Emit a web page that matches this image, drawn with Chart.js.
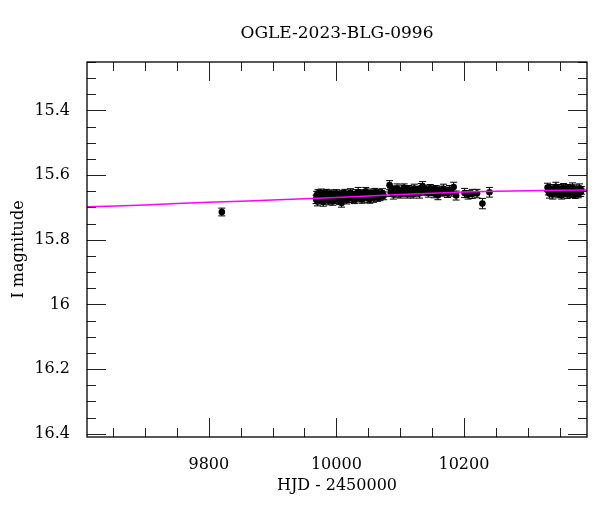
<!DOCTYPE html>
<html>
<head>
<meta charset="utf-8">
<script src="https://cdn.jsdelivr.net/npm/chart.js@4.4.0/dist/chart.umd.min.js"></script>
<style>
  body { margin: 0; background: #fff; }
  #wrap { width: 600px; height: 512px; }
</style>
</head>
<body>
<div id="wrap"><canvas id="lc" width="600" height="512"></canvas></div>
<script>
let titulo = "OGLE-2023-BLG-0996";
let xTitulo = "HJD - 2450000";
let yTitulo = "I magnitude";

let xTicks = [9800, 10000, 10200];
let yTicks = [15.4, 15.6, 15.8, 16, 16.2, 16.4];

// observaciones
let hjd = [
  9820.4,
  9968.2, 9969.1, 9970.3, 9971.2, 9972.4, 9973.1, 9974.3, 9975.2, 9976.1, 9977.3,
  9978.2, 9979.4, 9980.1, 9981.3, 9983.2, 9984.4, 9986.1, 9987.3, 9988.2, 9990.1,
  9991.3, 9993.2, 9994.4, 9996.1, 9997.3, 9999.2, 10000.4, 10002.1, 10003.3, 10005.2,
  10006.4, 10008.1, 10009.3, 10011.2, 10013.4, 10015.1, 10016.3, 10018.2, 10020.4, 10022.1,
  10024.3, 10026.2, 10028.4, 10030.1, 10032.3, 10034.2, 10036.4, 10038.1, 10040.3, 10042.2,
  10044.4, 10046.1, 10048.3, 10050.2, 10052.4, 10054.1, 10056.3, 10058.2, 10060.4, 10062.1,
  10064.3, 10066.2, 10068.4, 10070.1, 10072.3, 10074.2,
  10083.5, 10085.2, 10087.1, 10089.3, 10091.2, 10093.4, 10095.1, 10097.3, 10100.2, 10102.4,
  10104.1, 10106.3, 10108.2, 10111.4, 10113.1, 10115.3, 10118.2, 10120.4, 10122.1, 10125.3,
  10127.2, 10130.4, 10133.1, 10135.3, 10138.2, 10141.4, 10144.1, 10147.3, 10150.2, 10153.4,
  10156.1, 10159.3, 10162.2, 10165.4, 10168.1, 10171.3, 10174.2, 10177.4, 10180.1, 10183.9,
  10187.8,
  10201.0, 10206.5, 10213.0, 10220.5, 10229.0, 10240.0,
  10331.2, 10332.4, 10334.1, 10335.3, 10337.2, 10339.4, 10341.1, 10342.3, 10344.2, 10346.4,
  10348.1, 10349.3, 10351.2, 10353.4, 10355.1, 10356.3, 10358.2, 10360.4, 10362.1, 10363.3,
  10365.2, 10367.4, 10369.1, 10370.3, 10372.2, 10374.4, 10376.1, 10377.3, 10379.2, 10381.4,
  10383.1, 10384.3
];

let mag = [
  15.714,
  15.675, 15.662, 15.681, 15.657, 15.671, 15.677, 15.660, 15.668, 15.655, 15.674,
  15.665, 15.683, 15.659, 15.670, 15.676, 15.656, 15.667, 15.662, 15.679, 15.658,
  15.672, 15.664, 15.681, 15.660, 15.668, 15.675, 15.657, 15.671, 15.663, 15.679,
  15.667, 15.686, 15.659, 15.673, 15.656, 15.666, 15.676, 15.662, 15.670, 15.654,
  15.672, 15.664, 15.677, 15.658, 15.668, 15.652, 15.671, 15.662, 15.675, 15.656,
  15.666, 15.650, 15.670, 15.660, 15.674, 15.655, 15.665, 15.671, 15.653, 15.662,
  15.669, 15.657, 15.667, 15.660, 15.655, 15.664,
  15.631, 15.653, 15.645, 15.660, 15.648, 15.656, 15.641, 15.651, 15.659, 15.645,
  15.654, 15.639, 15.650, 15.658, 15.644, 15.653, 15.647, 15.659, 15.642, 15.652,
  15.646, 15.657, 15.639, 15.635, 15.650, 15.645, 15.655, 15.641, 15.649, 15.657,
  15.644, 15.662, 15.647, 15.653, 15.642, 15.650, 15.657, 15.646, 15.652, 15.637,
  15.663,
  15.655, 15.661, 15.658, 15.657, 15.688, 15.653,
  15.638, 15.649, 15.657, 15.642, 15.652, 15.660, 15.644, 15.653, 15.636, 15.650,
  15.658, 15.643, 15.654, 15.662, 15.645, 15.639, 15.655, 15.648, 15.659, 15.641,
  15.652, 15.646, 15.657, 15.638, 15.653, 15.660, 15.644, 15.650, 15.658, 15.641,
  15.653, 15.647
];

let err = [
  0.012,
  0.013, 0.012, 0.014, 0.012, 0.013, 0.012, 0.011, 0.013, 0.012, 0.014,
  0.012, 0.013, 0.012, 0.011, 0.013, 0.012, 0.014, 0.012, 0.013, 0.012,
  0.011, 0.013, 0.012, 0.014, 0.012, 0.013, 0.012, 0.011, 0.013, 0.012,
  0.014, 0.013, 0.012, 0.013, 0.012, 0.011, 0.013, 0.012, 0.014, 0.012,
  0.013, 0.012, 0.011, 0.013, 0.012, 0.014, 0.012, 0.013, 0.012, 0.011,
  0.013, 0.012, 0.014, 0.012, 0.013, 0.012, 0.011, 0.013, 0.012, 0.014,
  0.012, 0.013, 0.012, 0.011, 0.013, 0.012,
  0.014, 0.013, 0.012, 0.014, 0.013, 0.012, 0.014, 0.013, 0.012, 0.014,
  0.013, 0.012, 0.014, 0.013, 0.012, 0.014, 0.013, 0.012, 0.014, 0.013,
  0.012, 0.014, 0.013, 0.015, 0.012, 0.014, 0.013, 0.012, 0.014, 0.013,
  0.012, 0.014, 0.013, 0.012, 0.014, 0.013, 0.012, 0.014, 0.013, 0.015,
  0.014,
  0.014, 0.013, 0.014, 0.013, 0.016, 0.015,
  0.013, 0.012, 0.014, 0.013, 0.012, 0.014, 0.013, 0.012, 0.014, 0.013,
  0.012, 0.014, 0.013, 0.012, 0.014, 0.013, 0.012, 0.014, 0.013, 0.012,
  0.014, 0.013, 0.012, 0.014, 0.013, 0.012, 0.014, 0.013, 0.012, 0.014,
  0.013, 0.012
];

// modelo
let modeloHjd = [9609, 9700, 9800, 9900, 10000, 10100, 10200, 10300, 10393];
let modeloMag = [15.698, 15.692, 15.684, 15.677, 15.669, 15.660, 15.652, 15.648, 15.646];

let xMin = 9609, xMax = 10393;
let yMin = 15.25, yMax = 16.41;

let puntos = hjd.map((v, i) => ({x: v, y: mag[i]}));
let modelo = modeloHjd.map((v, i) => ({x: v, y: modeloMag[i]}));

function rango(desde, hasta, paso) {
  let out = [];
  for (let v = desde; v <= hasta + 1e-9; v += paso) out.push(+v.toFixed(4));
  return out;
}
let xMenores = rango(9650, 10350, 50);
let yMenores = rango(15.25, 16.40, 0.05);

const errorBars = {
  id: "errorBars",
  beforeDatasetsDraw(chart) {
    const {ctx, scales: {x, y}} = chart;
    ctx.save();
    ctx.strokeStyle = "#000";
    ctx.lineWidth = 1;
    ctx.beginPath();
    for (let i = 0; i < hjd.length; i++) {
      let px = x.getPixelForValue(hjd[i]);
      let y1 = y.getPixelForValue(mag[i] - err[i]);
      let y2 = y.getPixelForValue(mag[i] + err[i]);
      ctx.moveTo(px, y1); ctx.lineTo(px, y2);
      ctx.moveTo(px - 3.5, y1); ctx.lineTo(px + 3.5, y1);
      ctx.moveTo(px - 3.5, y2); ctx.lineTo(px + 3.5, y2);
    }
    ctx.stroke();
    ctx.restore();
  }
};

const marco = {
  id: "marco",
  afterDatasetsDraw(chart) {
    const {ctx, chartArea: a, scales: {x, y}} = chart;
    ctx.save();
    ctx.strokeStyle = "#222";
    ctx.lineWidth = 1;
    ctx.beginPath();
    for (const v of xMenores) {
      let px = Math.round(x.getPixelForValue(v)) + 0.5;
      let len = xTicks.some(t => Math.abs(t - v) < 1e-6) ? 19 : 9;
      ctx.moveTo(px, a.bottom); ctx.lineTo(px, a.bottom - len);
      ctx.moveTo(px, a.top); ctx.lineTo(px, a.top + len);
    }
    for (const v of yMenores) {
      let py = Math.round(y.getPixelForValue(v)) + 0.5;
      let len = yTicks.some(t => Math.abs(t - v) < 1e-6) ? 19 : 9;
      ctx.moveTo(a.left, py); ctx.lineTo(a.left + len, py);
      ctx.moveTo(a.right, py); ctx.lineTo(a.right - len, py);
    }
    ctx.stroke();
    ctx.strokeStyle = "#000";
    ctx.lineWidth = 1.3;
    ctx.strokeRect(a.left, a.top, a.right - a.left, a.bottom - a.top);
    ctx.restore();
  },
  afterDraw(chart) {
    const {ctx, chartArea: a} = chart;
    ctx.save();
    ctx.font = "17px 'DejaVu Serif'";
    ctx.fillStyle = "#000";
    ctx.textAlign = "center";
    ctx.textBaseline = "middle";
    ctx.fillText(titulo, (a.left + a.right) / 2, 34);
    ctx.restore();
  }
};

Chart.defaults.font.family = "'DejaVu Serif', serif";
Chart.defaults.font.size = 16;
Chart.defaults.color = "#000";

new Chart(document.querySelector("#lc"), {
  type: "scatter",
  data: {
    datasets: [
      {
        label: "modelo",
        data: modelo,
        showLine: true,
        borderColor: "#ff00ff",
        borderWidth: 1.5,
        pointRadius: 0,
        tension: 0.3
      },
      {
        label: "datos",
        data: puntos,
        pointRadius: 3.3,
        pointBackgroundColor: "#000",
        pointBorderColor: "#000",
        pointBorderWidth: 0
      }
    ]
  },
  options: {
    responsive: false,
    animation: false,
    layout: { padding: { top: 62, right: 13, left: 0, bottom: 0 } },
    plugins: {
      legend: { display: false },
      tooltip: { enabled: false },
      title: { display: false }
    },
    scales: {
      x: {
        type: "linear",
        min: xMin,
        max: xMax,
        grid: { display: false },
        border: { display: false },
        ticks: { padding: 10, color: "#000", autoSkip: false, callback: v => String(v) },
        afterBuildTicks: s => { s.ticks = xTicks.map(v => ({value: v})); },
        afterFit: s => { s.height = 75; },
        title: { display: true, text: xTitulo, padding: { top: 0, bottom: 17 }, color: "#000" }
      },
      y: {
        type: "linear",
        reverse: true,
        min: yMin,
        max: yMax,
        grid: { display: false },
        border: { display: false },
        ticks: {
          padding: 9,
          color: "#000",
          autoSkip: false,
          callback: v => String(+Number(v).toFixed(2))
        },
        afterBuildTicks: s => { s.ticks = yTicks.map(v => ({value: v})); },
        afterFit: s => { s.width = 87; },
        title: { display: true, text: yTitulo, padding: { top: 9, bottom: 0 }, color: "#000" }
      }
    }
  },
  plugins: [errorBars, marco]
});
</script>
</body>
</html>
